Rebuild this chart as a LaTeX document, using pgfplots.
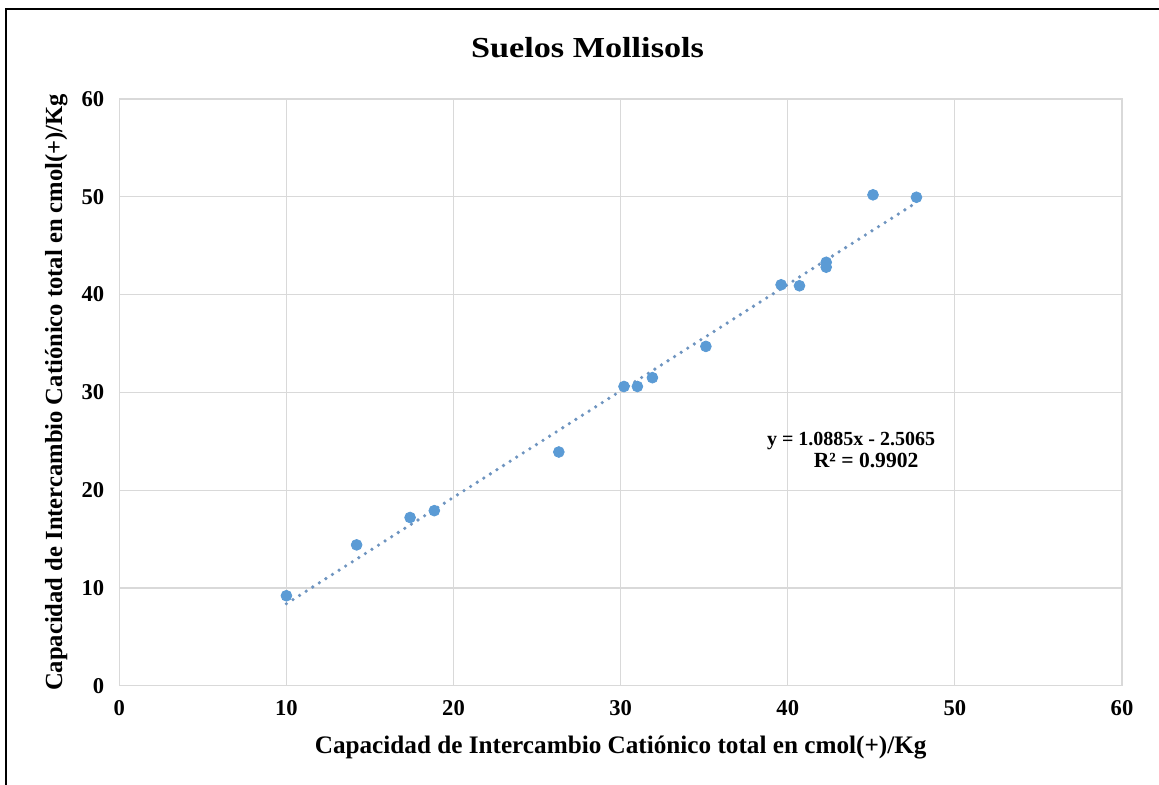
\documentclass[border=0pt]{standalone}
\usepackage{fontspec}
\setmainfont{Liberation Serif}
\usepackage{pgfplots}
\pgfplotsset{compat=1.18}
\definecolor{mk}{HTML}{5B9BD5}
\definecolor{tl}{HTML}{6E94C0}
\definecolor{gr}{HTML}{D9D9D9}
\begin{document}
\begin{tikzpicture}[x=1pt,y=1pt]
\useasboundingbox (0,0) rectangle (579.5,392.5);
\fill[white] (0,0) rectangle (579.5,392.5);
\draw[line width=1pt] (3,0) -- (3,388) -- (579.5,388);
\begin{axis}[
  at={(59.65pt,49.65pt)}, anchor=south west,
  scale only axis, width=501.35pt, height=293.35pt,
  xmin=0, xmax=60, ymin=0, ymax=60,
  xtick={0,10,...,60}, ytick={0,10,...,60},
  grid=major, grid style={gr, line width=0.6pt},
  axis line style={gr, line width=0.6pt},
  major tick length=0pt,
  /pgf/number format/assume math mode=true,
  tick label style={font=\fontsize{11.3}{13}\selectfont\bfseries},
  xticklabel style={yshift=-4pt},
  yticklabel style={xshift=-4pt},
  title={\scalebox{1.18}[1]{Suelos Mollisols}},
  title style={at={(axis description cs:0.467,1.0511)}, anchor=base, font=\fontsize{14.5}{16}\selectfont\bfseries},
  xlabel={Capacidad de Intercambio Catiónico total en cmol(+)/Kg},
  xlabel style={at={(axis description cs:0.5,-0.1164)}, anchor=base, font=\fontsize{12.6}{14}\selectfont\bfseries},
  ylabel={Capacidad de Intercambio Catiónico total en cmol(+)/Kg},
  ylabel style={at={(axis description cs:-0.0571,0.5)}, anchor=base, rotate=0, font=\fontsize{12.3}{14}\selectfont\bfseries},
  clip=false,
]
\addplot[only marks, mark=*, mark size=2.7pt, mark options={fill=mk, draw=mk}] coordinates {
(10.0,9.2) (14.2,14.4) (17.4,17.2) (18.85,17.9) (26.3,23.9)
(30.2,30.6) (31.0,30.6) (31.9,31.5) (35.1,34.7) (39.6,41.0)
(40.7,40.9) (42.3,43.3) (42.3,42.8) (45.1,50.2) (47.7,49.95)
};
\addplot[tl, line width=1.8pt, line cap=round, dash pattern=on 0pt off 3.9pt] coordinates {
(10.0,8.379) (47.7,49.415)
};
\node[anchor=base, font=\fontsize{10}{12}\selectfont\bfseries] at (axis cs:43.79,24.56) {y = 1.0885x - 2.5065};
\node[anchor=base, font=\fontsize{10.8}{12}\selectfont\bfseries] at (axis cs:44.69,22.3) {R² = 0.9902};
\end{axis}
\end{tikzpicture}
\end{document}
